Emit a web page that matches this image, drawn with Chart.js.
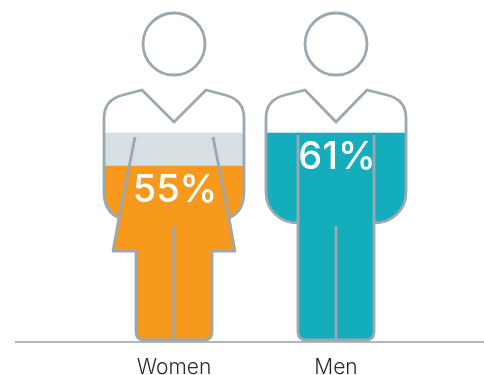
<!DOCTYPE html>
<html>
<head>
<meta charset="utf-8">
<style>
  html, body { margin: 0; padding: 0; background: #fff; }
  #wrap { width: 484px; height: 375px; }
</style>
<script src="https://cdn.jsdelivr.net/npm/chart.js@4/dist/chart.umd.min.js"></script>
</head>
<body>
<div id="wrap"><canvas id="figureChart" width="484" height="375"></canvas></div>
<script>
const categories = ['Women', 'Men'];
const shareValues = [55, 61];
const levelValues = [61, 61];

const FILL_COLORS = ['#f7991d', '#14adbb'];
const LEVEL_COLOR = '#d6e0e3';
const OUTLINE = '#9ba8b1';
const FONT = 'Inter, sans-serif';

// Half outlines from the collar point down to the foot, as [dx, height above baseline].
// Two numbers draw a line, four a quadratic curve, six a bezier.
const COLLAR_H = 220;
const womanHalf = [
    [32, 252],
    [51, 247],
    [63, 244, 70, 236, 70, 224],
    [70, 150],
    [70, 137, 64, 128, 55, 124],
    [61, 91],
    [38, 91],
    [38, 10],
    [38, 2, 30, 2]
];
const manHalf = [
    [31, 252],
    [51, 247],
    [63, 244, 70, 236, 70, 224],
    [70, 150],
    [70, 132, 56, 119, 38, 119],
    [38, 10],
    [38, 2, 30, 2]
];
const halves = [womanHalf, manHalf];

function traceBody(ctx, cx, b, half) {
    const X = d => cx + d;
    const Y = h => b - h;
    ctx.moveTo(cx, Y(COLLAR_H));
    // left side going down
    half.forEach(s => {
        if (s.length === 2) ctx.lineTo(X(-s[0]), Y(s[1]));
        if (s.length === 4) ctx.quadraticCurveTo(X(-s[0]), Y(s[1]), X(-s[2]), Y(s[3]));
        if (s.length === 6) ctx.bezierCurveTo(X(-s[0]), Y(s[1]), X(-s[2]), Y(s[3]), X(-s[4]), Y(s[5]));
    });
    // across the feet, then the right side going back up
    const last = half[half.length - 1];
    ctx.lineTo(X(last[last.length - 2]), Y(last[last.length - 1]));
    for (let i = half.length - 1; i >= 0; i--) {
        const s = half[i];
        const prev = i > 0 ? half[i - 1].slice(-2) : [0, COLLAR_H];
        if (s.length === 2) ctx.lineTo(X(prev[0]), Y(prev[1]));
        if (s.length === 4) ctx.quadraticCurveTo(X(s[0]), Y(s[1]), X(prev[0]), Y(prev[1]));
        if (s.length === 6) ctx.bezierCurveTo(X(s[2]), Y(s[3]), X(s[0]), Y(s[1]), X(prev[0]), Y(prev[1]));
    }
    ctx.closePath();
}

function tracedBodies(chart) {
    const { ctx, scales: { x, y } } = chart;
    const b = y.getPixelForValue(y.min);
    categories.forEach((name, i) => traceBody(ctx, x.getPixelForValue(i), b, halves[i]));
}

// Bars only show inside the figure outlines
const figureClip = {
    id: 'figureClip',
    beforeDatasetsDraw(chart) {
        const { ctx } = chart;
        ctx.save();
        ctx.beginPath();
        tracedBodies(chart);
        ctx.clip();
    },
    afterDatasetsDraw(chart) {
        chart.ctx.restore();
    }
};

// Heads, body outlines, seams, baseline and value labels on top of the bars
const figureOverlay = {
    id: 'figureOverlay',
    afterDraw(chart) {
        const { ctx, scales: { x, y } } = chart;
        const b = y.getPixelForValue(y.min);

        ctx.save();
        ctx.strokeStyle = '#b1b6bb';
        ctx.lineWidth = 2;
        ctx.beginPath();
        ctx.moveTo(15, b);
        ctx.lineTo(chart.width, b);
        ctx.stroke();

        ctx.strokeStyle = OUTLINE;
        ctx.lineWidth = 2.8;
        ctx.lineJoin = 'round';
        ctx.beginPath();
        tracedBodies(chart);
        ctx.stroke();

        categories.forEach((name, i) => {
            const cx = x.getPixelForValue(i);
            ctx.beginPath();
            ctx.arc(cx, b - 298, 31, 0, Math.PI * 2);
            ctx.stroke();

            ctx.beginPath();
            ctx.moveTo(cx, b - 116);
            ctx.lineTo(cx, b - 2);
            if (i === 0) {
                ctx.moveTo(cx - 39, b - 205);
                ctx.lineTo(cx - 55, b - 124);
                ctx.moveTo(cx + 39, b - 205);
                ctx.lineTo(cx + 55, b - 124);
            } else {
                ctx.moveTo(cx - 38, b - 207);
                ctx.lineTo(cx - 38, b - 119);
                ctx.moveTo(cx + 38, b - 207);
                ctx.lineTo(cx + 38, b - 119);
            }
            ctx.stroke();

            ctx.fillStyle = '#fff';
            ctx.font = '500 38px ' + FONT;
            ctx.textAlign = 'center';
            ctx.textBaseline = 'middle';
            ctx.fillText(shareValues[i] + '%', cx + 1, y.getPixelForValue(shareValues[i]) + 25);
        });
        ctx.restore();
    }
};

new Chart(document.getElementById('figureChart').getContext('2d'), {
    type: 'bar',
    data: {
        labels: categories,
        datasets: [
            {
                label: 'Share',
                data: shareValues,
                backgroundColor: FILL_COLORS,
                grouped: false,
                order: 1,
                barPercentage: 1,
                categoryPercentage: 1
            },
            {
                label: 'Level',
                data: levelValues,
                backgroundColor: LEVEL_COLOR,
                grouped: false,
                order: 2,
                barPercentage: 1,
                categoryPercentage: 1
            }
        ]
    },
    options: {
        responsive: false,
        animation: false,
        layout: { padding: { left: 93, right: 67, top: 0, bottom: 0 } },
        plugins: {
            legend: { display: false },
            tooltip: { enabled: false }
        },
        scales: {
            x: {
                grid: { display: false, drawTicks: false },
                border: { display: false },
                ticks: {
                    color: '#2b2b2b',
                    padding: 13,
                    maxRotation: 0,
                    font: { family: FONT, size: 21, weight: '300' }
                },
                afterFit(scale) { scale.height = 33; }
            },
            y: {
                display: false,
                min: 23,
                max: 85.2
            }
        }
    },
    plugins: [figureClip, figureOverlay]
});
</script>
</body>
</html>
